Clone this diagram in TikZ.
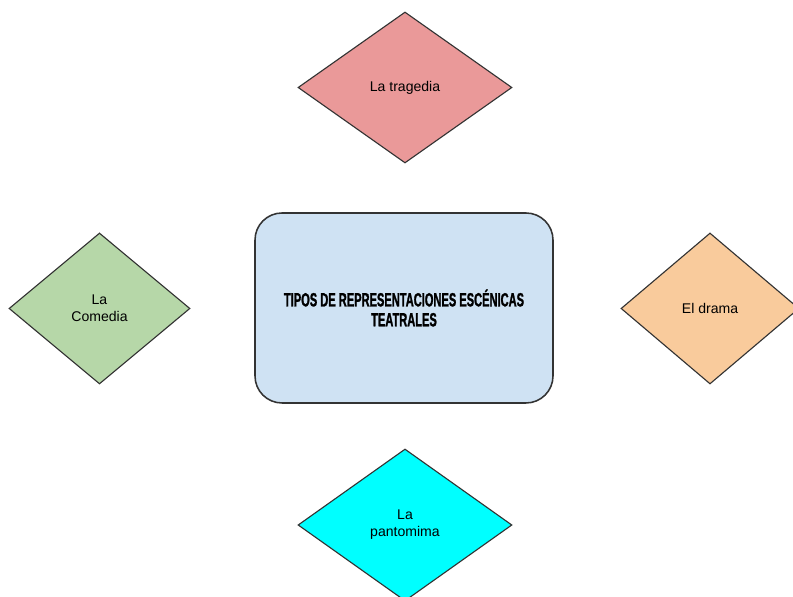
\documentclass[tikz,border=0pt]{standalone}
\usepackage{fontspec}
\setmainfont{Liberation Sans}
\newfontfamily\titlefont[FakeStretch=0.58,FakeBold=1.2]{Liberation Sans}
\usetikzlibrary{shapes.geometric}
\definecolor{rojo}{HTML}{EA9999}
\definecolor{verde}{HTML}{B6D7A8}
\definecolor{naranja}{HTML}{F9CB9C}
\definecolor{cian}{HTML}{00FFFF}
\definecolor{azul}{HTML}{CFE2F3}
\definecolor{borde}{HTML}{333333}

\begin{document}
\begin{tikzpicture}[tipo/.style={shape=diamond,draw=borde,inner sep=0,line width=0.8pt,minimum height=3.775cm,align=center,font=\fontsize{10}{12}\selectfont}, centro/.style={shape=rectangle,draw=borde,fill=azul,rounded corners=0.675cm,line width=1.1pt,minimum width=7.45cm,minimum height=4.75cm,align=center,font=\titlefont\bfseries\fontsize{13.6}{14.2}\selectfont}]
				\useasboundingbox (0,0) rectangle (19.825,14.925);
				\node[centro] (tipos) at (10.1,7.225) {TIPOS DE REPRESENTACIONES ESCÉNICAS\\TEATRALES};
				\node[tipo,fill=rojo,minimum width=5.35cm] (tragedia) at (10.125,12.7375) {La tragedia};
				\node[tipo,fill=verde,minimum width=4.525cm] (comedia) at (2.4875,7.2125) {La\\Comedia};
				\node[tipo,fill=naranja,minimum width=4.45cm] (drama) at (17.75,7.2125) {El drama};
				\node[tipo,fill=cian,minimum width=5.35cm,minimum height=3.8cm] (pantomima) at (10.125,1.8) {La\\pantomima};
			\end{tikzpicture}
\end{document}
